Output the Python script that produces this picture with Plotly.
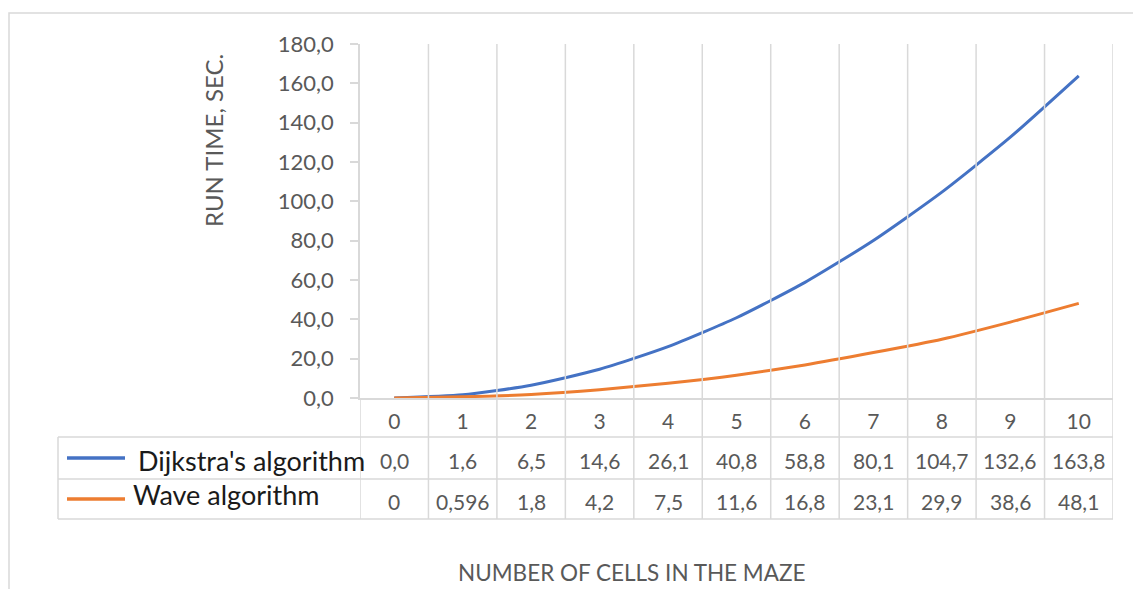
import plotly.graph_objects as go

W, H = 1133, 589

cells = list(range(0, 11))
dijkstra = [0.0, 1.6, 6.5, 14.6, 26.1, 40.8, 58.8, 80.1, 104.7, 132.6, 163.8]
wave = [0, 0.596, 1.8, 4.2, 7.5, 11.6, 16.8, 23.1, 29.9, 38.6, 48.1]
series_names = ["Dijkstra's algorithm", "Wave algorithm"]
colors = ["#4472C4", "#ED7D31"]
y_title = "RUN TIME, SEC."
x_title = "NUMBER OF CELLS IN THE MAZE"

FONT = "Lato"
GRAY = "#595959"
GRID = "#d9d9d9"


def px(x):
    return x / W


def py(y):
    return 1 - y / H


def fmt_d(v):
    return f"{v:.1f}".replace(".", ",")


def fmt_w(v):
    s = f"{v:g}"
    return s.replace(".", ",")


fig = go.Figure()
for name, vals, col in zip(series_names, [dijkstra, wave], colors):
    fig.add_trace(go.Scatter(x=cells, y=vals, mode="lines", name=name,
                             line=dict(color=col, width=3, shape="spline", smoothing=0.6),
                             showlegend=False, hoverinfo="skip"))

shapes = []
# outer chart frame
shapes.append(dict(type="rect", xref="paper", yref="paper", x0=px(9), x1=px(1150),
                   y0=py(13), y1=py(620), line=dict(color=GRID, width=1.5)))
# vertical gridlines at category boundaries (plot + data table)
for k in range(len(cells)):
    shapes.append(dict(type="line", xref="x", yref="paper", x0=k + 0.5, x1=k + 0.5,
                       y0=py(44), y1=py(519), line=dict(color=GRID, width=1.5)))
# left boundary through table
shapes.append(dict(type="line", xref="x", yref="paper", x0=-0.5, x1=-0.5,
                   y0=py(398), y1=py(519), line=dict(color=GRID, width=1.5)))
# table horizontal lines
for yy in [437, 479, 519]:
    shapes.append(dict(type="line", xref="paper", yref="paper", x0=px(58), x1=px(1113),
                       y0=py(yy), y1=py(yy), line=dict(color=GRID, width=1.5)))
shapes.append(dict(type="line", xref="paper", yref="paper", x0=px(58), x1=px(58),
                   y0=py(437), y1=py(519), line=dict(color=GRID, width=1.5)))
# legend keys
for yy, col in zip([458, 499], colors):
    shapes.append(dict(type="line", xref="paper", yref="paper", x0=px(67), x1=px(125),
                       y0=py(yy), y1=py(yy), line=dict(color=col, width=3.5)))

annotations = []
for i, c in enumerate(cells):
    annotations.append(dict(x=c, y=py(460), xref="x", yref="paper", text=fmt_d(dijkstra[i]),
                            showarrow=False, xanchor="center", yanchor="middle",
                            font=dict(family=FONT, size=21, color=GRAY)))
    annotations.append(dict(x=c, y=py(501), xref="x", yref="paper", text=fmt_w(wave[i]),
                            showarrow=False, xanchor="center", yanchor="middle",
                            font=dict(family=FONT, size=21, color=GRAY)))
annotations.append(dict(x=px(136), y=py(461), xref="paper", yref="paper", text=series_names[0],
                        showarrow=False, xanchor="left", yanchor="middle",
                        font=dict(family=FONT, size=27, color="#1a1a1a")))
annotations.append(dict(x=px(131), y=py(494), xref="paper", yref="paper", text=series_names[1],
                        showarrow=False, xanchor="left", yanchor="middle",
                        font=dict(family=FONT, size=27, color="#1a1a1a")))
annotations.append(dict(x=px(213), y=py(140), xref="paper", yref="paper", text=y_title,
                        showarrow=False, textangle=-90, xanchor="center", yanchor="middle",
                        font=dict(family=FONT, size=24, color=GRAY)))
annotations.append(dict(x=px(632), y=py(572), xref="paper", yref="paper", text=x_title,
                        showarrow=False, xanchor="center", yanchor="middle",
                        font=dict(family=FONT, size=22.5, color=GRAY)))

fig.update_layout(
    width=W, height=H,
    autosize=False,
    margin=dict(l=0, r=0, t=0, b=0, pad=0),
    paper_bgcolor="white", plot_bgcolor="white",
    separators=", ",
    showlegend=False,
    shapes=shapes,
    annotations=annotations,
    xaxis=dict(domain=[px(360), px(1113)], range=[-0.5, 10.5], tickmode="array",
               tickvals=cells, ticktext=[str(c) for c in cells], showgrid=False,
               zeroline=False, showline=True, linecolor=GRID, linewidth=1.5, ticks="",
               ticklabelstandoff=4, tickfont=dict(family=FONT, size=21, color=GRAY),
               automargin=False, fixedrange=True),
    yaxis=dict(domain=[py(398), py(44)], range=[0, 180], dtick=20, tick0=0, tickformat=".1f",
               showgrid=False, zeroline=False, showline=True, linecolor=GRID, linewidth=1.5,
               ticks="outside", ticklen=8, tickcolor=GRID, tickwidth=1.5,
               ticklabelstandoff=12, tickfont=dict(family=FONT, size=22, color=GRAY),
               automargin=False, fixedrange=True),
)

fig.write_html("out.html", config={"displayModeBar": False},
               post_script="document.body.style.margin='0';document.body.style.overflow='hidden';")
